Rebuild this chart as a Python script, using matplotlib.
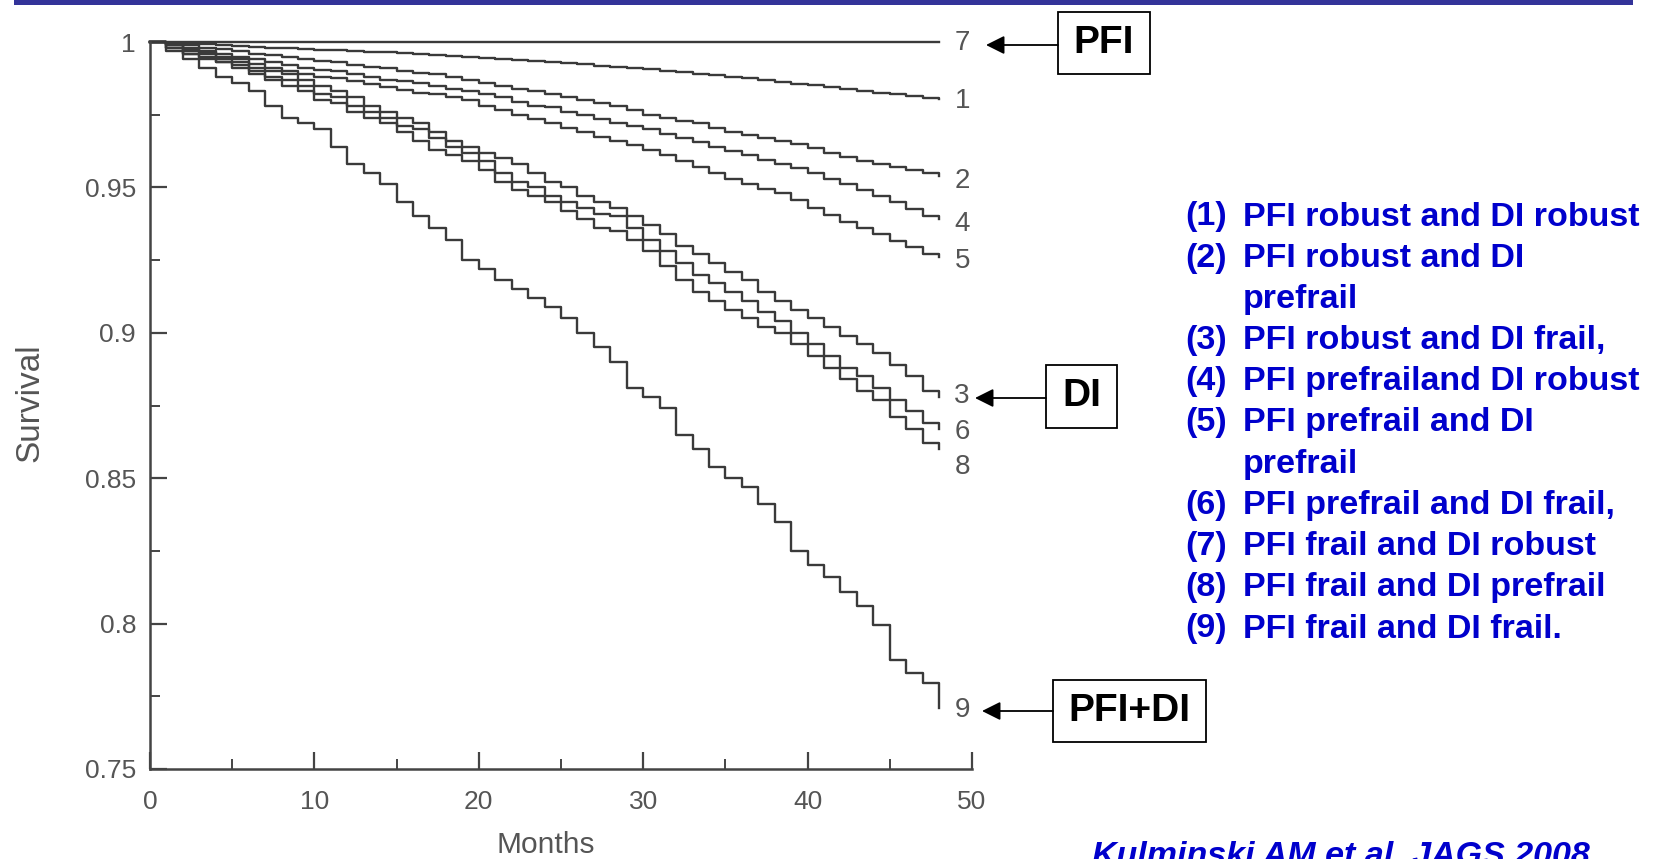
import matplotlib.pyplot as plt
from matplotlib.patches import Rectangle

# ------------------------------
# data (survival by month, 0..48)
# ------------------------------
months = list(range(49))

surv_7 = [1.0] * 49
surv_1 = [1.0, 0.9998, 0.9995, 0.9992, 0.9988, 0.9985, 0.9982, 0.998, 0.9978, 0.9976,
          0.9974, 0.9972, 0.997, 0.9967, 0.9964, 0.9961, 0.9958, 0.9955, 0.9952, 0.9949,
          0.9946, 0.9942, 0.9939, 0.9935, 0.9931, 0.9927, 0.9923, 0.9919, 0.9915, 0.9911,
          0.9906, 0.9901, 0.9896, 0.9891, 0.9886, 0.988, 0.9875, 0.9869, 0.9863, 0.9857,
          0.9851, 0.9845, 0.9839, 0.9833, 0.9826, 0.982, 0.9814, 0.9808, 0.9805]
surv_2 = [1.0, 0.9995, 0.999, 0.998, 0.9975, 0.997, 0.996, 0.9955, 0.995, 0.994,
          0.9935, 0.993, 0.992, 0.9915, 0.991, 0.99, 0.9895, 0.989, 0.988, 0.987,
          0.986, 0.985, 0.984, 0.983, 0.982, 0.981, 0.98, 0.979, 0.978, 0.9765,
          0.975, 0.974, 0.973, 0.972, 0.9705, 0.969, 0.968, 0.967, 0.966, 0.965,
          0.9635, 0.962, 0.9605, 0.959, 0.958, 0.957, 0.956, 0.955, 0.954]
surv_4 = [1.0, 0.9992, 0.998, 0.997, 0.996, 0.995, 0.994, 0.993, 0.992, 0.991,
          0.9905, 0.99, 0.989, 0.988, 0.987, 0.9865, 0.986, 0.985, 0.984, 0.983,
          0.982, 0.981, 0.9795, 0.978, 0.9775, 0.976, 0.975, 0.9735, 0.972, 0.971,
          0.97, 0.9685, 0.967, 0.9655, 0.964, 0.9625, 0.961, 0.9595, 0.958, 0.9565,
          0.955, 0.953, 0.951, 0.949, 0.947, 0.945, 0.9425, 0.94, 0.939]
surv_5 = [1.0, 0.999, 0.9975, 0.9965, 0.995, 0.994, 0.9925, 0.991, 0.99, 0.989,
          0.988, 0.9875, 0.9865, 0.9855, 0.9845, 0.9835, 0.9825, 0.982, 0.981, 0.98,
          0.978, 0.9765, 0.975, 0.9735, 0.972, 0.9705, 0.969, 0.9675, 0.966, 0.9645,
          0.963, 0.961, 0.959, 0.957, 0.955, 0.953, 0.951, 0.9495, 0.948, 0.9455,
          0.943, 0.9405, 0.938, 0.936, 0.934, 0.9315, 0.9295, 0.927, 0.926]
surv_3 = [1.0, 0.999, 0.997, 0.996, 0.994, 0.993, 0.991, 0.99, 0.989, 0.987,
          0.985, 0.983, 0.981, 0.978, 0.976, 0.974, 0.972, 0.969, 0.966, 0.964,
          0.962, 0.96, 0.958, 0.955, 0.952, 0.95, 0.947, 0.945, 0.943, 0.94,
          0.937, 0.934, 0.93, 0.927, 0.924, 0.921, 0.918, 0.914, 0.911, 0.908,
          0.905, 0.902, 0.899, 0.896, 0.893, 0.889, 0.885, 0.88, 0.878]
surv_6 = [1.0, 0.998, 0.996, 0.995, 0.993, 0.992, 0.99, 0.988, 0.987, 0.985,
          0.982, 0.981, 0.978, 0.976, 0.974, 0.971, 0.97, 0.967, 0.964, 0.962,
          0.959, 0.955, 0.952, 0.95, 0.947, 0.945, 0.943, 0.941, 0.94, 0.936,
          0.932, 0.928, 0.924, 0.92, 0.917, 0.914, 0.911, 0.907, 0.904, 0.9,
          0.896, 0.892, 0.888, 0.885, 0.881, 0.877, 0.873, 0.869, 0.867]
surv_8 = [1.0, 0.998, 0.996, 0.994, 0.993, 0.991, 0.989, 0.987, 0.985, 0.983,
          0.98, 0.979, 0.976, 0.974, 0.972, 0.969, 0.966, 0.963, 0.961, 0.959,
          0.956, 0.952, 0.949, 0.947, 0.945, 0.942, 0.939, 0.936, 0.935, 0.932,
          0.928, 0.923, 0.918, 0.914, 0.911, 0.908, 0.905, 0.902, 0.9, 0.896,
          0.892, 0.888, 0.884, 0.88, 0.877, 0.871, 0.867, 0.862, 0.86]
surv_9 = [1.0, 0.997, 0.994, 0.991, 0.988, 0.986, 0.983, 0.978, 0.974, 0.972,
          0.97, 0.964, 0.958, 0.955, 0.951, 0.945, 0.94, 0.936, 0.932, 0.925,
          0.922, 0.918, 0.915, 0.912, 0.909, 0.905, 0.9, 0.895, 0.89, 0.881,
          0.878, 0.874, 0.865, 0.86, 0.854, 0.85, 0.847, 0.841, 0.835, 0.825,
          0.82, 0.816, 0.811, 0.806, 0.7995, 0.7875, 0.783, 0.7796, 0.771]

curves = [('7', surv_7), ('1', surv_1), ('2', surv_2), ('4', surv_4), ('5', surv_5),
          ('3', surv_3), ('6', surv_6), ('8', surv_8), ('9', surv_9)]
# where the number sits at the right end of each curve
label_pos = {'7': 0.9995, '1': 0.9797, '2': 0.9522, '4': 0.9374, '5': 0.9247,
             '3': 0.8782, '6': 0.8659, '8': 0.8538, '9': 0.7703}

y_ticks = [0.75, 0.8, 0.85, 0.9, 0.95, 1.0]
y_ticklabels = ['0.75', '0.8', '0.85', '0.9', '0.95', '1']
x_ticks = [0, 10, 20, 30, 40, 50]

legend_items = [('(1)', ['PFI robust and DI robust']),
                ('(2)', ['PFI robust and DI', 'prefrail']),
                ('(3)', ['PFI robust and DI frail,']),
                ('(4)', ['PFI prefrailand DI robust']),
                ('(5)', ['PFI prefrail and DI', 'prefrail']),
                ('(6)', ['PFI prefrail and DI frail,']),
                ('(7)', ['PFI frail and DI robust']),
                ('(8)', ['PFI frail and DI prefrail']),
                ('(9)', ['PFI frail and DI frail.'])]

# ------------------------------
# figure in pixel terms
# ------------------------------
W, H = 1663, 859
def fx(x): return x / W
def fy(y): return 1 - y / H

plt.rcParams['font.family'] = ['Liberation Sans', 'DejaVu Sans']
gray_txt = '#555555'

fig = plt.figure(figsize=(W / 100, H / 100), dpi=100)

# blue strip at the top
fig.add_artist(Rectangle((fx(14), fy(5)), fx(1633) - fx(14), 5 / H,
                         transform=fig.transFigure, color='#333399', lw=0))

ax = fig.add_axes([fx(150), fy(769), (972 - 150) / W, (769 - 42) / H])
for name, s in curves:
    ax.step(months, s, where='post', color='#3a3a3a', lw=1.7, clip_on=False)
    ax.text(49.4, label_pos[name], name, ha='center', va='center',
            fontsize=20, color=gray_txt)

ax.set_xlim(0, 50)
ax.set_ylim(0.75, 1.0)
ax.set_xticks(x_ticks)
ax.set_xticks([5, 15, 25, 35, 45], minor=True)
ax.set_yticks(y_ticks)
ax.set_yticklabels(y_ticklabels)
ax.set_yticks([0.775, 0.825, 0.875, 0.925, 0.975], minor=True)
for side in ['top', 'right']:
    ax.spines[side].set_visible(False)
for side in ['left', 'bottom']:
    ax.spines[side].set_color('#444444')
    ax.spines[side].set_linewidth(1.8)
ax.tick_params(which='major', direction='in', length=12, width=1.6, color='#444444',
               labelsize=19, labelcolor=gray_txt)
ax.tick_params(which='minor', direction='in', length=7, width=1.4, color='#444444')
ax.tick_params(axis='x', pad=15)
ax.tick_params(axis='y', pad=10)

fig.text(fx(30), fy(403), 'Survival', rotation=90, ha='center', va='center',
         fontsize=24, color=gray_txt)
fig.text(fx(546), fy(845), 'Months', ha='center', va='center',
         fontsize=21.5, color=gray_txt)

# boxes with arrows
boxes = [('PFI', (1058, 12, 1150, 74), (986, 45)),
         ('DI', (1046, 365, 1117, 428), (975, 398)),
         ('PFI+DI', (1053, 680, 1206, 742), (982, 711))]
for txt, (x0, y0, x1, y1), tip in boxes:
    fig.add_artist(Rectangle((fx(x0), fy(y1)), (x1 - x0) / W, (y1 - y0) / H,
                             transform=fig.transFigure, fill=False,
                             edgecolor='black', lw=1.3))
    fig.text(fx((x0 + x1) / 2), fy((y0 + y1) / 2), txt, ha='center', va='center',
             fontsize=28, fontweight='bold', color='black')
    ax.annotate('', xy=(fx(tip[0]), fy(tip[1])), xycoords='figure fraction',
                xytext=(fx(x0), fy(tip[1])), textcoords='figure fraction',
                arrowprops=dict(arrowstyle='-|>', color='black', lw=1.3,
                                mutation_scale=28, shrinkA=0, shrinkB=0))

# legend text
row = 0
for num, lines in legend_items:
    fig.text(fx(1185), fy(217 + 41.2 * row), num, ha='left', va='center',
             fontsize=24.5, fontweight='bold', color='#0000CC')
    for ln in lines:
        fig.text(fx(1243), fy(217 + 41.2 * row), ln, ha='left', va='center',
                 fontsize=24.5, fontweight='bold', color='#0000CC')
        row += 1

fig.text(fx(1092), fy(841), 'Kulminski AM et al, JAGS 2008', ha='left', va='top',
         fontsize=24.5, fontweight='bold', fontstyle='italic', color='#0000CC')

fig.savefig('out.png', dpi=100)
